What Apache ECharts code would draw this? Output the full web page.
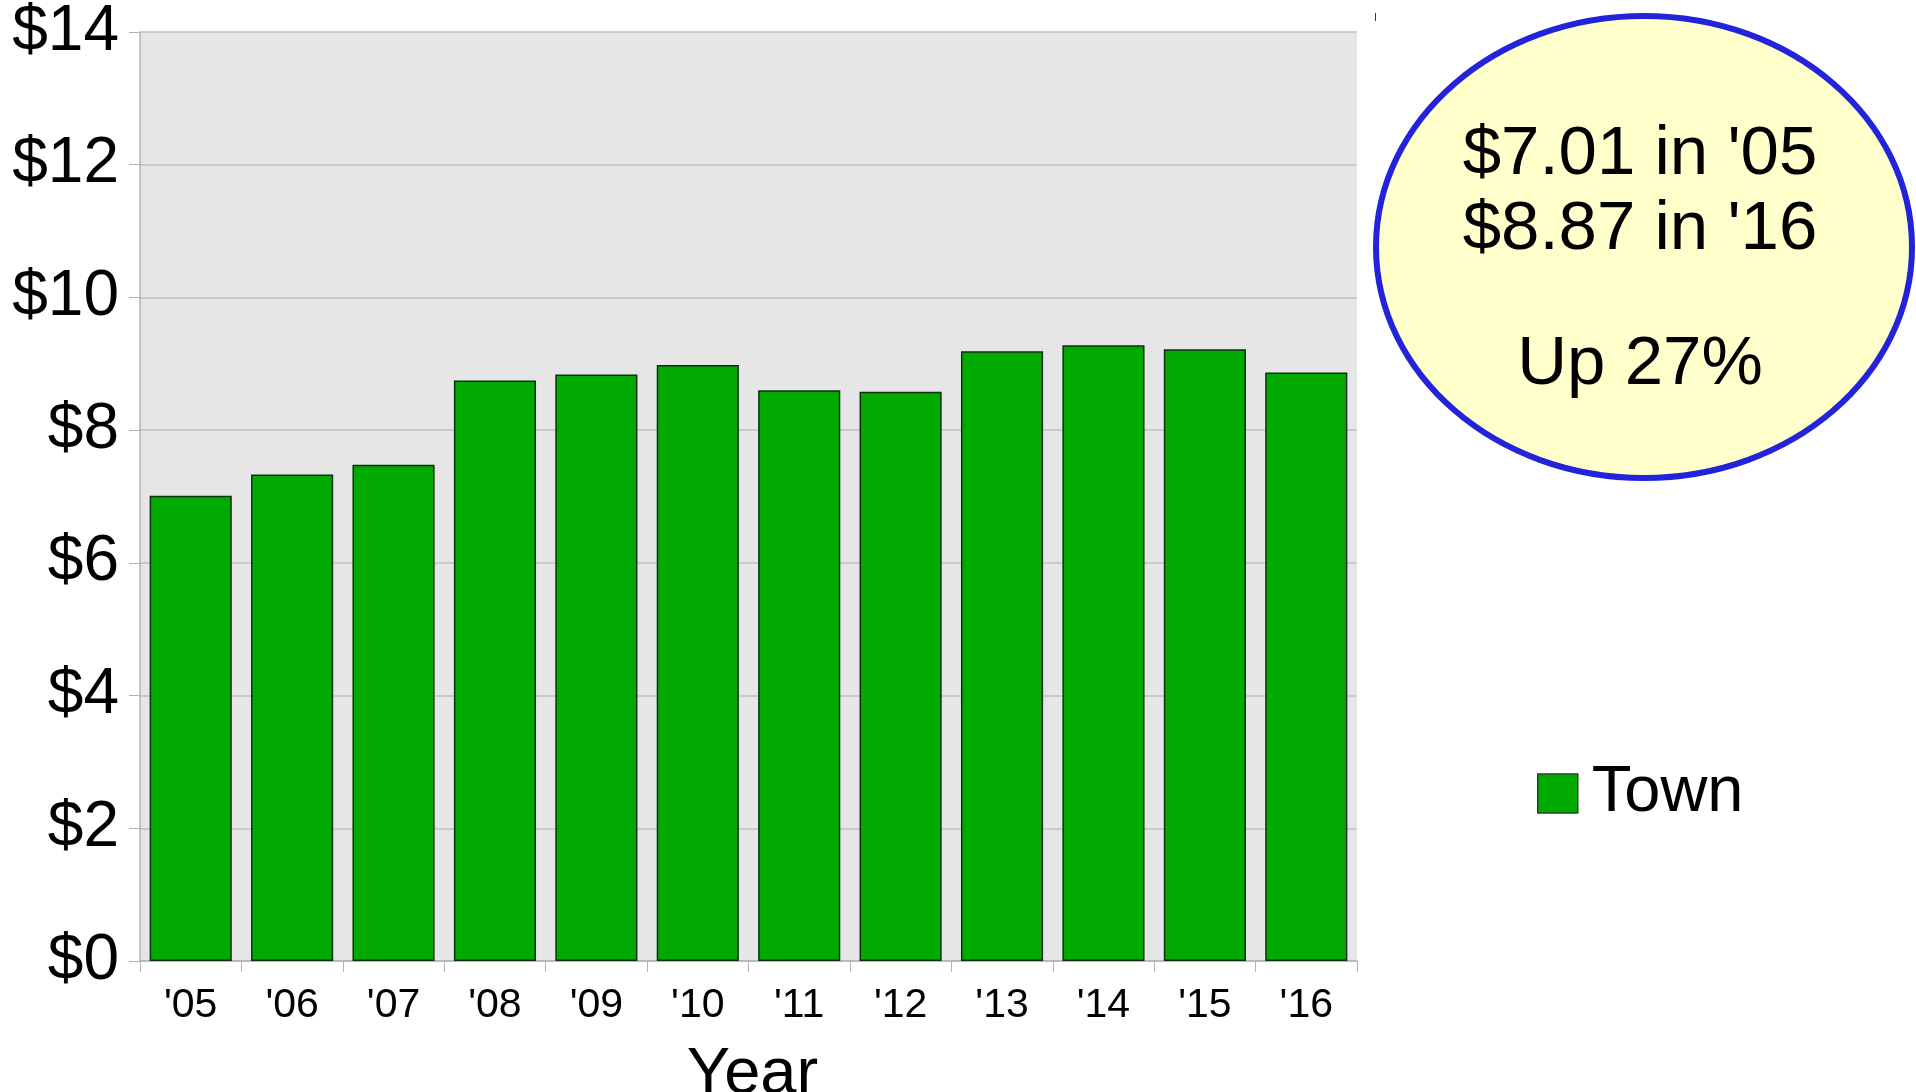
<!DOCTYPE html>
<html>
<head>
<meta charset="utf-8">
<script src="https://cdn.jsdelivr.net/npm/echarts@6/dist/echarts.min.js"></script>
<style>
html,body{margin:0;padding:0;background:#fff;overflow:hidden;}
#chart{width:1916px;height:1092px;}
</style>
</head>
<body>
<div id="chart"></div>
<script>
const categories = ["'05","'06","'07","'08","'09","'10","'11","'12","'13","'14","'15","'16"];
const townValues = [7.01, 7.33, 7.48, 8.75, 8.84, 8.98, 8.60, 8.58, 9.19, 9.28, 9.22, 8.87];
const seriesName = 'Town';
const yTicks = [0, 2, 4, 6, 8, 10, 12, 14];
const noteLines = ["$7.01 in '05", "$8.87 in '16", "Up 27%"];

const chart = echarts.init(document.getElementById('chart'));
const font = '"Liberation Sans", Arial, sans-serif';
chart.setOption({
  animation: false,
  backgroundColor: '#ffffff',
  grid: {left: 140, right: 559, top: 32, bottom: 131, show: true, backgroundColor: '#e6e6e6', borderWidth: 0,
         containLabel: false, outerBoundsMode: 'none'},
  legend: {
    data: [seriesName], left: 1532, top: 756, itemWidth: 40, itemHeight: 39,
    icon: 'rect', selectedMode: false,
    itemStyle: {borderColor: '#1a4d1a', borderWidth: 1.5},
    textStyle: {fontFamily: font, fontSize: 65, color: '#000', lineHeight: 65, padding: [0,0,0,9]}
  },
  xAxis: {
    type: 'category', data: categories,
    name: 'Year', nameLocation: 'middle', nameGap: 82,
    nameTextStyle: {fontFamily: font, fontSize: 65, color: '#000', padding: [0,0,0,8]},
    axisLine: {show: true, lineStyle: {color: '#b3b3b3', width: 1.5}},
    axisTick: {show: true, length: 11, lineStyle: {color: '#b3b3b3'}},
    axisLabel: {fontFamily: font, fontSize: 41, color: '#000', margin: 24}
  },
  yAxis: {
    type: 'value', min: yTicks[0], max: yTicks[yTicks.length-1], interval: 2,
    axisLine: {show: true, lineStyle: {color: '#b3b3b3', width: 1.5}},
    axisTick: {show: true, length: 11, lineStyle: {color: '#b3b3b3'}},
    splitLine: {show: true, lineStyle: {color: '#c0c0c0', width: 1.5}},
    axisLabel: {fontFamily: font, fontSize: 64, color: '#000', margin: 21, formatter: v => '$' + v}
  },
  series: [{
    name: seriesName, type: 'bar', data: townValues,
    barCategoryGap: '19%',
    itemStyle: {color: '#00aa00', borderColor: '#0f2f0f', borderWidth: 1.5}
  }],
  graphic: [
    {type: 'ellipse', shape: {cx: 1644, cy: 247, rx: 268, ry: 231},
     style: {fill: '#ffffcc', stroke: '#2323d9', lineWidth: 6}, z: 10},
    {type: 'line', shape: {x1: 1375.5, y1: 13, x2: 1375.5, y2: 21}, style: {stroke: '#2323d9', lineWidth: 1}, z: 10},
    {type: 'text', x: 1640, y: 155, z: 11, style: {text: noteLines[0], font: '69px ' + font, fill: '#000', align: 'center', verticalAlign: 'middle'}},
    {type: 'text', x: 1640, y: 230, z: 11, style: {text: noteLines[1], font: '69px ' + font, fill: '#000', align: 'center', verticalAlign: 'middle'}},
    {type: 'text', x: 1640, y: 365, z: 11, style: {text: noteLines[2], font: '69px ' + font, fill: '#000', align: 'center', verticalAlign: 'middle'}}
  ]
});
</script>
</body>
</html>
